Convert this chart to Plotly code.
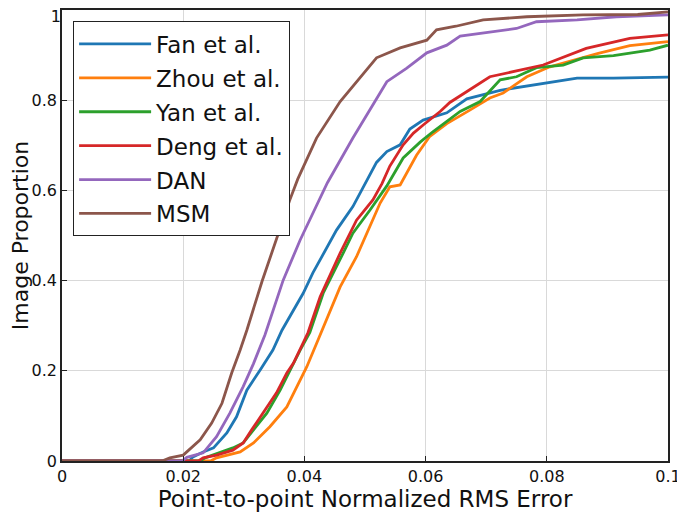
import plotly.graph_objects as go

names = ["Fan et al.", "Zhou et al.", "Yan et al.", "Deng et al.", "DAN", "MSM"]
colors = ["#1f77b4", "#ff7f0e", "#2ca02c", "#d62728", "#9467bd", "#8c564b"]

fan_x = [0, 0.021, 0.0216, 0.0233, 0.025, 0.0272, 0.0288, 0.0305, 0.0327, 0.0348, 0.0363, 0.0398, 0.0414, 0.0453, 0.048, 0.0503,
         0.0519, 0.0536, 0.0558, 0.0574, 0.0596, 0.0635, 0.0668, 0.0723, 0.075, 0.0794, 0.085, 0.091, 0.1]
fan_y = [0, 0, 0.009, 0.02, 0.029, 0.062, 0.098, 0.157, 0.202, 0.246, 0.29, 0.372, 0.417, 0.512, 0.564, 0.623,
         0.662, 0.686, 0.701, 0.736, 0.756, 0.772, 0.803, 0.822, 0.828, 0.838, 0.849, 0.849, 0.851]

zhou_x = [0, 0.0245, 0.0255, 0.0294, 0.0316, 0.0343, 0.0371, 0.0387, 0.0404, 0.0423, 0.0459, 0.0486, 0.0508, 0.0525, 0.0541,
          0.0558, 0.0585, 0.0607, 0.0635, 0.0657, 0.0673, 0.0706, 0.0728, 0.0767, 0.0794, 0.0805, 0.0885, 0.0937, 0.1]
zhou_y = [0, 0, 0.007, 0.02, 0.04, 0.076, 0.12, 0.165, 0.209, 0.27, 0.386, 0.453, 0.52, 0.572, 0.608,
          0.612, 0.678, 0.72, 0.748, 0.765, 0.778, 0.805, 0.816, 0.852, 0.867, 0.874, 0.904, 0.921, 0.93]

yan_x = [0, 0.0228, 0.0236, 0.0282, 0.0299, 0.0316, 0.0338, 0.036, 0.0376, 0.0393, 0.0409, 0.0431, 0.0464, 0.048, 0.0508, 0.0536,
         0.0563, 0.0591, 0.0612, 0.064, 0.0657, 0.069, 0.0723, 0.075, 0.0783, 0.0827, 0.086, 0.091, 0.0937, 0.097, 0.1]
yan_y = [0, 0, 0.007, 0.029, 0.04, 0.069, 0.106, 0.157, 0.202, 0.246, 0.285, 0.372, 0.461, 0.505, 0.556, 0.61,
         0.672, 0.707, 0.73, 0.757, 0.775, 0.797, 0.845, 0.852, 0.872, 0.878, 0.894, 0.899, 0.905, 0.911, 0.922]

deng_x = [0, 0.0225, 0.0233, 0.0255, 0.0282, 0.0299, 0.0313, 0.0332, 0.0354, 0.0371, 0.0382, 0.0398, 0.0406, 0.0426, 0.0459,
          0.0486, 0.0513, 0.0528, 0.0541, 0.0563, 0.058, 0.0596, 0.0624, 0.064, 0.0706, 0.0794, 0.0865, 0.0937, 0.1]
deng_y = [0, 0, 0.007, 0.013, 0.024, 0.04, 0.069, 0.106, 0.151, 0.195, 0.217, 0.262, 0.285, 0.364, 0.461,
          0.534, 0.579, 0.615, 0.654, 0.701, 0.727, 0.745, 0.775, 0.795, 0.852, 0.878, 0.915, 0.937, 0.945]

dan_x = [0, 0.0198, 0.0206, 0.0233, 0.0255, 0.0277, 0.0299, 0.0316, 0.0335, 0.0365, 0.0393, 0.042, 0.0438, 0.048, 0.0513,
         0.0536, 0.0569, 0.0602, 0.0635, 0.0657, 0.075, 0.0783, 0.085, 0.0915, 0.1]
dan_y = [0, 0, 0.008, 0.018, 0.054, 0.106, 0.165, 0.216, 0.28, 0.401, 0.49, 0.564, 0.617, 0.716, 0.789,
         0.841, 0.871, 0.905, 0.922, 0.942, 0.959, 0.974, 0.978, 0.985, 0.989]

msm_x = [0, 0.0165, 0.0178, 0.02, 0.0228, 0.0247, 0.0264, 0.028, 0.0294, 0.0305, 0.033, 0.0351, 0.0376, 0.0389, 0.042, 0.0459,
         0.0492, 0.0519, 0.0558, 0.0602, 0.0618, 0.065, 0.0695, 0.0767, 0.086, 0.095, 0.1]
msm_y = [0, 0, 0.007, 0.013, 0.047, 0.084, 0.128, 0.195, 0.246, 0.29, 0.398, 0.482, 0.579, 0.625, 0.716, 0.797,
         0.849, 0.894, 0.916, 0.933, 0.956, 0.964, 0.978, 0.985, 0.989, 0.99, 0.996]

series = [(fan_x, fan_y), (zhou_x, zhou_y), (yan_x, yan_y), (deng_x, deng_y), (dan_x, dan_y), (msm_x, msm_y)]

x_ticks = [0, 0.02, 0.04, 0.06, 0.08, 0.1]
x_tick_labels = ["0", "0.02", "0.04", "0.06", "0.08", "0.1"]
y_ticks = [0, 0.2, 0.4, 0.6, 0.8, 1]
y_tick_labels = ["0", "0.2", "0.4", "0.6", "0.8", "1"]

fig = go.Figure()
for i, (name, color, (xs, ys)) in enumerate(zip(names, colors, series)):
    fig.add_trace(go.Scatter(x=xs, y=ys, mode="lines", name=name, legendgroup=f"g{i}",
                             line=dict(color=color, width=2.8)))

font = "DejaVu Sans, sans-serif"
tickfont = dict(family=font, size=16, color="#111")
axis_common = dict(showline=True, linecolor="#222", linewidth=1.5, mirror=True,
                   ticks="inside", ticklen=5, tickcolor="#222", showgrid=True,
                   gridcolor="#d9d9d9", gridwidth=1, zeroline=False, automargin=False,
                   ticklabeloverflow="allow", tickfont=tickfont)

# main y axis labels all ticks but the top one; the top label sits on an overlay axis
# nudged a few pixels down so that it stays inside the drawing area
main_y_text = y_tick_labels[:-1] + [""]

# page body adds an 8px offset, so the figure is sized to fit the 685x513 window
fig.update_layout(
    width=677, height=505,
    margin=dict(l=54, r=17, t=2, b=52),
    paper_bgcolor="white", plot_bgcolor="white",
    font=dict(family=font, color="#111"),
    xaxis=dict(range=[0, 0.1], tickvals=x_ticks, ticktext=x_tick_labels,
               title=dict(text="Point-to-point Normalized RMS Error", font=dict(size=23), standoff=4),
               **axis_common),
    yaxis=dict(range=[0, 1], tickvals=y_ticks, ticktext=main_y_text,
               title=dict(text="Image Proportion", font=dict(size=22), standoff=19),
               **axis_common),
    yaxis2=dict(range=[0, 1], overlaying="y", side="left", tickvals=[y_ticks[-1]],
                ticktext=[y_tick_labels[-1]], showgrid=False, showline=False, zeroline=False,
                ticks="inside", ticklen=5, tickcolor="#222", automargin=False,
                ticklabeloverflow="allow", ticklabelshift=6, tickfont=tickfont),
    legend=dict(x=0.018, y=0.975, xanchor="left", yanchor="top",
                bgcolor="white", bordercolor="#222", borderwidth=1.2,
                font=dict(family=font, size=23, color="#111"),
                tracegroupgap=1, itemwidth=72),
    showlegend=True,
)
# invisible helper trace so the overlay axis is drawn
fig.add_trace(go.Scatter(x=[x_ticks[0]], y=[y_ticks[0]], yaxis="y2", mode="markers",
                         marker=dict(opacity=0), showlegend=False, hoverinfo="skip"))

fig.write_html("out.html")
